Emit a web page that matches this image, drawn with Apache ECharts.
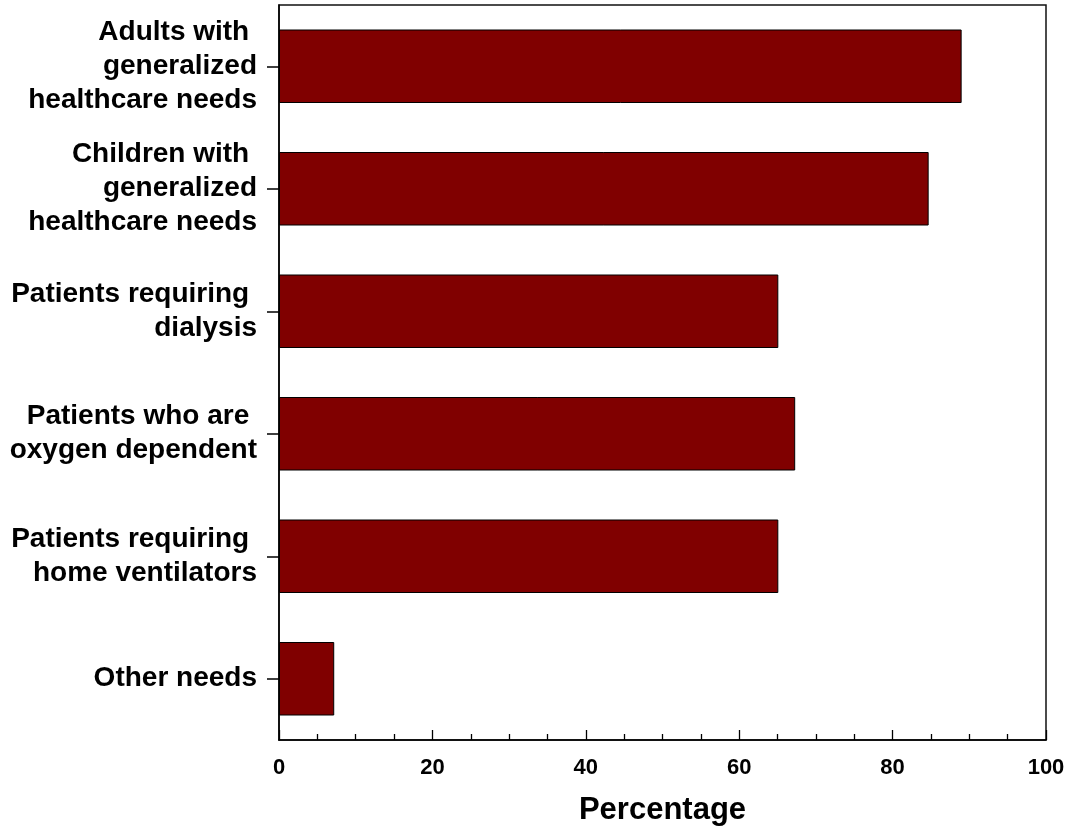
<!DOCTYPE html>
<html>
<head>
<meta charset="utf-8">
<script src="https://cdn.jsdelivr.net/npm/echarts@6/dist/echarts.min.js"></script>
<style>
  html, body { margin: 0; padding: 0; background: #fff; }
  #main { width: 1075px; height: 832px; }
</style>
</head>
<body>
<div id="main"></div>
<script>
// categories top to bottom
const categories = [
  'Adults with \ngeneralized\nhealthcare needs',
  'Children with \ngeneralized\nhealthcare needs',
  'Patients requiring \ndialysis',
  'Patients who are \noxygen dependent',
  'Patients requiring \nhome ventilators',
  'Other needs'
];
const percentages = [89, 84.7, 65.1, 67.3, 65.1, 7.2];
const xTicks = [0, 20, 40, 60, 80, 100];

const font = '"Liberation Sans", Arial, Helvetica, sans-serif';

var myChart = echarts.init(document.getElementById('main'));
var option = {
  backgroundColor: '#fff',
  animation: false,
  grid: {
    left: 279, right: 29, top: 5, bottom: 92,
    show: true,
    borderColor: '#111',
    borderWidth: 1.5,
    backgroundColor: 'transparent'
  },
  xAxis: {
    type: 'value',
    min: xTicks[0],
    max: xTicks[xTicks.length - 1],
    interval: 20,
    name: 'Percentage',
    nameLocation: 'middle',
    nameGap: 55,
    nameTextStyle: { fontFamily: font, fontWeight: 'bold', fontSize: 31, color: '#000' },
    axisLine: { show: true, lineStyle: { color: '#000', width: 1.5 } },
    axisTick: { show: true, inside: true, length: 10, lineStyle: { color: '#000', width: 1.3 } },
    minorTick: { show: true, splitNumber: 4, length: 6, lineStyle: { color: '#000', width: 1.3 } },
    splitLine: { show: false },
    axisLabel: {
      margin: 17,
      fontFamily: font, fontWeight: 'bold', fontSize: 22, color: '#000',
      formatter: v => xTicks.includes(v) ? String(v) : ''
    }
  },
  yAxis: {
    type: 'category',
    inverse: true,
    data: categories,
    axisLine: { show: true, lineStyle: { color: '#000', width: 1.5 } },
    axisTick: { show: true, alignWithLabel: true, length: 12, lineStyle: { color: '#000', width: 1.5 } },
    axisLabel: {
      margin: 22,
      fontFamily: font, fontWeight: 'bold', fontSize: 28, lineHeight: 34, color: '#000',
      align: 'right'
    }
  },
  series: [{
    type: 'bar',
    data: percentages,
    barCategoryGap: '40%',
    itemStyle: { color: '#800000', borderColor: '#000', borderWidth: 1 }
  }]
};
myChart.setOption(option);
</script>
</body>
</html>
